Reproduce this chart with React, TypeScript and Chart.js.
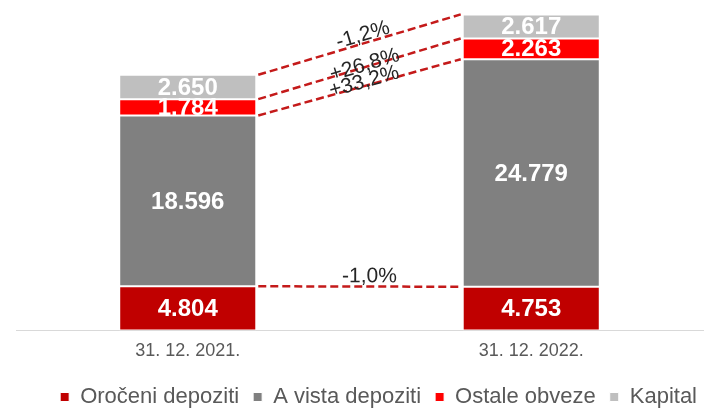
import React, { useEffect, useRef } from "react";
import { Chart, registerables } from "chart.js";

Chart.register(...registerables);

const categories = ["31. 12. 2021.", "31. 12. 2022."];
const seriesNames = ["Oročeni depoziti", "A vista depoziti", "Ostale obveze", "Kapital"];
const orocenIDepoziti = [4804, 4753];
const aVistaDepoziti = [18596, 24779];
const ostaleObveze = [1784, 2263];
const kapital = [2650, 2617];
const changeLabels = ["-1,0%", "+33,2%", "+26,8%", "-1,2%"];
const seriesColors = ["#C00000", "#808080", "#FF0000", "#BFBFBF"];

const FONT = "'Liberation Sans', Arial, sans-serif";

const fmt = (n: number) => String(n).replace(/\B(?=(\d{3})+(?!\d))/g, ".");

const labelPerp = [-10, -4, -2, -8];

const overlayPlugin = {
  id: "overlay",
  afterDatasetsDraw(chart: any) {
    const ctx = chart.ctx;
    const n = chart.data.datasets.length;
    for (let i = 0; i < n; i++) {
      const meta = chart.getDatasetMeta(i);
      const b0 = meta.data[0];
      const b1 = meta.data[1];
      if (!b0 || !b1) continue;
      const x0 = b0.x + b0.width / 2 + 2;
      const y0 = b0.y;
      const x1 = b1.x - b1.width / 2 - 2;
      const y1 = b1.y;
      ctx.save();
      ctx.strokeStyle = "#C41A1A";
      ctx.lineWidth = 2.5;
      ctx.setLineDash([8, 4]);
      ctx.beginPath();
      ctx.moveTo(x0, y0);
      ctx.lineTo(x1, y1);
      ctx.stroke();
      ctx.restore();

      const ang = Math.atan2(y1 - y0, x1 - x0);
      const mx = (x0 + x1) / 2;
      const my = (y0 + y1) / 2;
      ctx.save();
      ctx.translate(mx, my);
      ctx.rotate(ang);
      ctx.font = `21px ${FONT}`;
      ctx.fillStyle = "#262626";
      ctx.textAlign = "center";
      ctx.textBaseline = "middle";
      ctx.fillText(changeLabels[i], i === 0 ? 10 : 6, labelPerp[i]);
      ctx.restore();
    }
    for (let i = 0; i < n; i++) {
      const meta = chart.getDatasetMeta(i);
      const ds = chart.data.datasets[i];
      meta.data.forEach((bar: any, j: number) => {
        ctx.save();
        ctx.font = `bold 24px ${FONT}`;
        ctx.fillStyle = "#FFFFFF";
        ctx.textAlign = "center";
        ctx.textBaseline = "middle";
        ctx.fillText(fmt(ds.data[j]), bar.x, (bar.y + bar.base) / 2 + 1);
        ctx.restore();
      });
    }
  },
};

export default function App() {
  const ref = useRef<HTMLCanvasElement>(null);
  useEffect(() => {
    document.body.style.margin = "0";
    const values = [orocenIDepoziti, aVistaDepoziti, ostaleObveze, kapital];
    const chart = new Chart(ref.current!, {
      type: "bar",
      data: {
        labels: categories,
        datasets: values.map((v, i) => ({
          label: seriesNames[i],
          data: v,
          backgroundColor: seriesColors[i],
          borderColor: "#FFFFFF",
          borderWidth: 1,
          borderSkipped: false,
          barPercentage: 0.399,
          categoryPercentage: 1,
        })),
      },
      options: {
        animation: false,
        responsive: true,
        maintainAspectRatio: false,
        layout: { padding: { left: 16, right: 0, top: 9, bottom: 0 } },
        scales: {
          x: {
            stacked: true,
            grid: { display: false, drawTicks: false },
            border: { display: true, color: "#D9D9D9", width: 1 },
            ticks: {
              color: "#595959",
              font: { family: FONT, size: 18 },
              padding: 10,
            },
          },
          y: {
            stacked: true,
            display: false,
            min: 0,
            max: 35000,
          },
          yPad: {
            position: "right",
            display: true,
            min: 0,
            max: 1,
            grid: { display: false, drawTicks: false },
            border: { display: false },
            ticks: { display: false },
            afterFit: (scale: any) => {
              scale.width = 8;
            },
          },
        },
        plugins: {
          tooltip: { enabled: false },
          legend: {
            position: "bottom",
            align: "end",
            maxHeight: 36,
            labels: {
              boxWidth: 9,
              boxHeight: 9,
              padding: 14,
              color: "#595959",
              font: { family: FONT, size: 22 },
            },
          },
        },
      },
      plugins: [overlayPlugin],
    });
    return () => chart.destroy();
  }, []);
  return (
    <div style={{ position: "fixed", left: 0, top: 0, width: 711, height: 408 }}>
      <canvas ref={ref} />
    </div>
  );
}
